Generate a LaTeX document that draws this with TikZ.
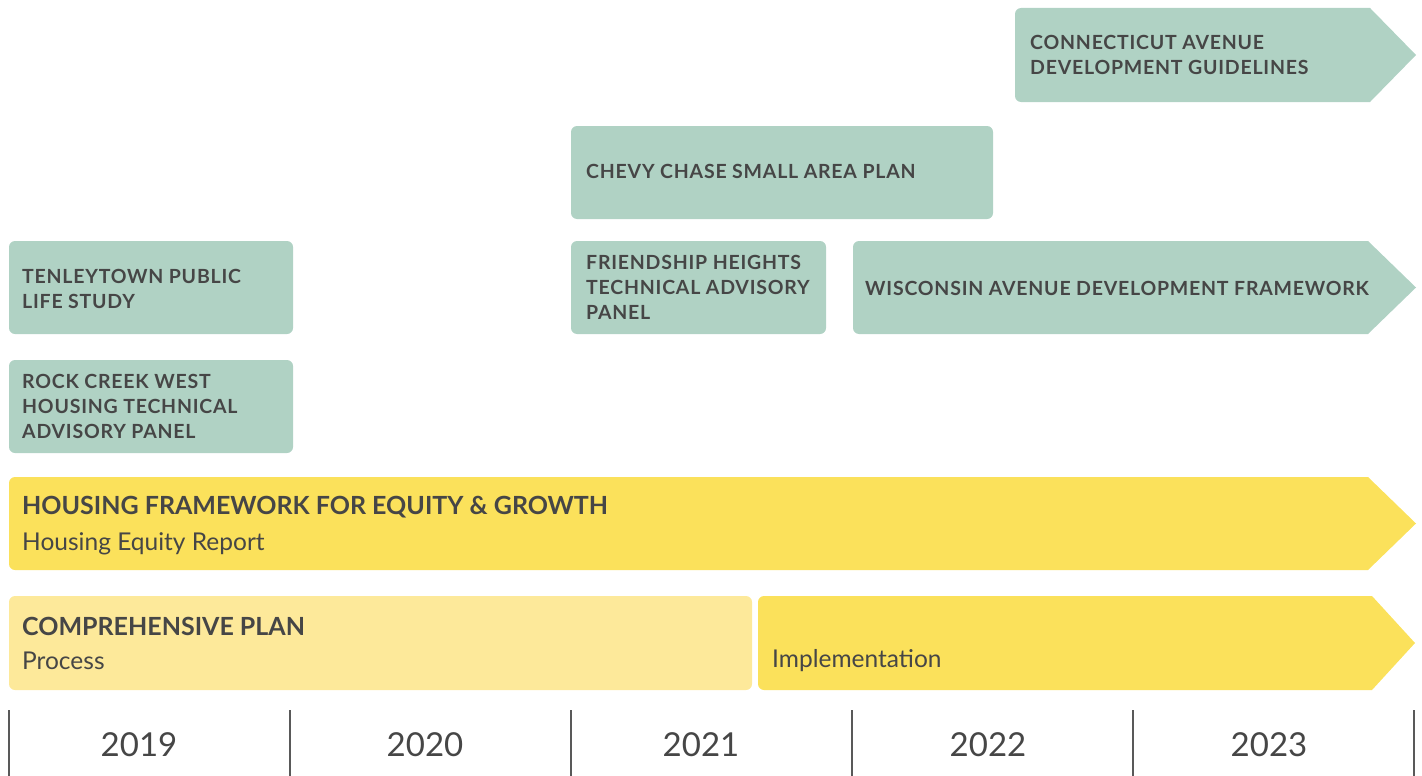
\documentclass[tikz,border=0pt]{standalone}
\usepackage{fontspec}
\setmainfont{Lato}
\newfontfamily\labelfont[LetterSpace=4]{Lato}
\definecolor{boxgreen}{HTML}{B0D2C4}
\definecolor{boxyellow}{HTML}{FBE15B}
\definecolor{paleyellow}{HTML}{FDE99A}
\definecolor{ink}{HTML}{464646}
\begin{document}
\begin{tikzpicture}[x=1pt,y=-1pt,
  gbox/.style={fill=boxgreen,rounded corners=6pt},
  ybox/.style={fill=boxyellow,rounded corners=6pt},
  pbox/.style={fill=paleyellow,rounded corners=6pt},
  lbl/.style={anchor=west,inner sep=0pt,text=ink,font=\labelfont\bfseries\fontsize{19.5}{25}\selectfont,align=left},
  bigt/.style={anchor=west,inner sep=0pt,text=ink,font=\bfseries\fontsize{25}{28}\selectfont},
  subt/.style={anchor=west,inner sep=0pt,text=ink,font=\fontsize{24.5}{28}\selectfont},
  yr/.style={inner sep=0pt,text=ink,font=\fontsize{33}{38}\selectfont},
  tick/.style={draw=ink!90,line width=2pt}]
\useasboundingbox (0,0) rectangle (1422,776);
% green boxes
\fill[boxgreen] (1370,8) -- (1416,55) -- (1370,102) -- (1021,102) arc[start angle=90,end angle=180,radius=6] -- (1015,14) arc[start angle=180,end angle=270,radius=6] -- cycle;
\fill[gbox] (571,126) rectangle (993,219);
\fill[gbox] (9,241) rectangle (293,334);
\fill[gbox] (571,241) rectangle (826,334);
\fill[boxgreen] (1368,241) -- (1416,287.5) -- (1368,334) -- (859,334) arc[start angle=90,end angle=180,radius=6] -- (853,247) arc[start angle=180,end angle=270,radius=6] -- cycle;
\fill[gbox] (9,360) rectangle (293,453);
% yellow bars
\fill[boxyellow] (1368,477) -- (1416,523.5) -- (1368,570) -- (15,570) arc[start angle=90,end angle=180,radius=6] -- (9,483) arc[start angle=180,end angle=270,radius=6] -- cycle;
\fill[pbox] (9,596) rectangle (752,690);
\fill[boxyellow] (1372,596) -- (1415,643) -- (1372,690) -- (764,690) arc[start angle=90,end angle=180,radius=6] -- (758,602) arc[start angle=180,end angle=270,radius=6] -- cycle;
% labels
\node[lbl] (ct) at (1030,55) {CONNECTICUT AVENUE\\DEVELOPMENT GUIDELINES};
\node[lbl] (cc) at (586,171) {CHEVY CHASE SMALL AREA PLAN};
\node[lbl] (tt) at (22,289) {TENLEYTOWN PUBLIC\\LIFE STUDY};
\node[lbl] (fh) at (586,287) {FRIENDSHIP HEIGHTS\\TECHNICAL ADVISORY\\PANEL};
\node[lbl] (wi) at (865,288) {WISCONSIN AVENUE DEVELOPMENT FRAMEWORK};
\node[lbl] (rc) at (22,406) {ROCK CREEK WEST\\HOUSING TECHNICAL\\ADVISORY PANEL};
\node[bigt] (hf) at (22,507) {HOUSING FRAMEWORK FOR EQUITY \& GROWTH};
\node[subt] (her) at (22,544) {Housing Equity Report};
\node[bigt] (cp) at (22,626) {COMPREHENSIVE PLAN};
\node[subt] (pr) at (22,661) {Process};
\node[subt] (im) at (772,661) {Implementation};
% timeline
\foreach \i/\x in {0/9,1/290,2/571,3/852,4/1133,5/1414}
  \draw[tick] (\x,710) -- (\x,776);
\node[yr] (y19) at (139,745) {2019};
\node[yr] (y20) at (425,745) {2020};
\node[yr] (y21) at (701,745) {2021};
\node[yr] (y22) at (988,745) {2022};
\node[yr] (y23) at (1269,745) {2023};
\end{tikzpicture}
\end{document}
